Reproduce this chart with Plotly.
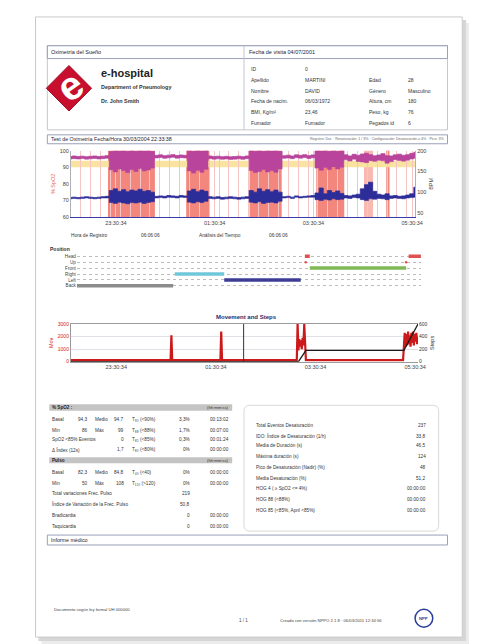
import plotly.graph_objects as go
import pandas as pd

W, H = 477, 644
FONT = "Arial, Liberation Sans, sans-serif"

def px(x):
    return x / W

def py(y):
    return 1 - y / H

def ts(hm):
    h = int(hm.split(":")[0])
    day = "2004-03-30" if h >= 12 else "2004-03-31"
    if hm.count(":") == 1:
        hm = hm + ":00"
    return f"{day} {hm}"

# ---------------- DATA ----------------
range_start, range_end = "22:36", "05:34"
tick_times = ["23:30:34", "01:30:34", "03:30:34", "05:30:34"]

# oximetry samples every 5 minutes from 22:35
sample_start = "2004-03-30 22:35"
spo2_hi = [96.5, 96.8, 96.5, 96.7, 96.4, 96.6, 96.8, 96.5, 96.7, 97.0,
           99.5, 100, 99.8, 100, 99.6, 100, 99.7, 100, 99.8, 100, 99.5,
           97.2, 97.5, 97.0, 97.3, 97.6, 97.1, 97.4, 97.2,
           100, 99.6, 100, 99.8, 100,
           96.8, 96.5, 96.7, 96.4, 96.6, 96.3, 96.5, 96.7, 96.4, 96.8,
           100, 99.7, 100, 99.5, 100, 99.8, 100, 99.6,
           97.0, 97.3, 96.8, 97.5, 97.2, 97.6, 97.0, 97.4,
           100, 99.8, 100, 99.5, 100, 99.7, 100,
           97.5, 96.8, 97.8, 97.2, 98.0, 98.5, 97.6, 96.9, 97.4, 98.2, 97.0, 96.8,
           97.5, 97.9, 97.2, 97.6, 98.4, 99.0]
spo2_lo = [95.0, 95.2, 95.0, 95.3, 94.9, 95.1, 95.3, 95.0, 95.2, 95.4,
           88.5, 87.2, 89.0, 88.0, 86.8, 88.6, 87.5, 89.2, 87.8, 88.4, 89.5,
           95.6, 95.9, 95.4, 95.7, 96.0, 95.5, 95.8, 95.6,
           87.8, 86.5, 88.2, 87.0, 88.8,
           95.2, 94.9, 95.1, 94.8, 95.0, 94.7, 94.9, 95.1, 94.8, 95.2,
           88.0, 86.9, 87.5, 88.6, 87.2, 88.1, 87.0, 89.0,
           95.4, 95.6, 95.2, 95.8, 95.5, 95.9, 95.3, 95.7,
           89.5, 88.2, 89.8, 88.6, 90.2, 89.0, 90.0,
           94.5, 93.8, 94.9, 93.5, 93.2, 92.8, 94.0, 93.6, 94.2, 93.9, 92.5, 93.4,
           94.6, 94.1, 93.7, 94.3, 95.0, 95.5]
pulse_hi = [87, 88, 87, 88, 89, 88, 87, 88, 89, 90,
            104, 108, 102, 106, 101, 105, 103, 107, 102, 104, 100,
            90, 91, 90, 92, 91, 90, 92, 91,
            103, 107, 101, 105, 102,
            89, 88, 89, 87, 88, 89, 88, 87, 88, 89,
            104, 100, 108, 102, 106, 101, 105, 100,
            89, 90, 88, 91, 89, 90, 91, 92,
            98, 110, 96, 104, 99, 103, 97,
            92, 91, 93, 95, 108, 118, 124, 102, 95, 93, 96, 91,
            92, 90, 91, 93, 96, 112]
pulse_lo = [84, 85, 84, 85, 86, 85, 84, 85, 86, 86,
            75, 73, 76, 74, 72, 75, 74, 76, 73, 75, 77,
            86, 87, 86, 88, 87, 86, 88, 87,
            76, 74, 77, 75, 78,
            85, 84, 85, 83, 84, 85, 84, 83, 84, 85,
            76, 74, 77, 73, 75, 76, 74, 78,
            86, 87, 85, 88, 86, 87, 88, 88,
            82, 80, 83, 81, 84, 82, 83,
            86, 85, 87, 86, 82, 80, 84, 83, 85, 84, 82, 85,
            86, 85, 84, 86, 87, 88]

# desaturation events
event_start = ["23:21", "00:56", "02:13", "03:34", "04:32", "04:59"]
event_end = ["00:18", "01:24", "02:52", "04:08", "04:43", "05:03"]
event_strong = [True, True, True, True, False, True]
alert_band = [90, 94]

# body position
pos_labels = ["Back", "Left", "Right", "Front", "Up", "Head"]
pos_row = ["Back", "Right", "Left", "Head", "Front", "Head"]
pos_start = ["22:36", "00:35", "01:35", "03:13", "03:19", "05:19"]
pos_end = ["00:33", "01:35", "03:08", "03:19", "05:16", "05:34"]
up_times = ["03:14", "05:16"]

# movement & steps
mov_times = ["22:36", "00:36", "00:37", "00:38", "01:36", "01:37", "01:38",
             "03:08", "03:09", "03:10", "03:11", "03:12", "03:13", "03:14", "03:15",
             "03:16", "03:17", "03:18", "03:19",
             "05:16", "05:17", "05:18", "05:19", "05:20", "05:21", "05:22", "05:23",
             "05:24", "05:25", "05:26", "05:27", "05:28", "05:29", "05:30", "05:31",
             "05:32", "05:33", "05:34"]
mov_vals = [120, 120, 2100, 120, 120, 2400, 120,
            120, 3000, 900, 1800, 1200, 1700, 1000, 1900, 1300, 3000, 600, 120,
            120, 1400, 2300, 1200, 2200, 1300, 2400, 1400, 2100, 1200, 2300, 1500,
            2400, 1300, 2200, 1600, 2300, 1400, 2000]
steps_times = ["22:36", "03:10", "03:19", "05:17", "05:34"]
steps_vals = [0, 0, 180, 180, 600]
marker_time = "02:04"

# patient info
info_l1 = ["ID", "Apellido", "Nombre", "Fecha de nacim.", "BMI, Kg/m²", "Fumador"]
info_v1 = ["0", "MARTINI", "DAVID", "06/03/1972", "23,46", "Fumador"]
info_l2 = ["", "Edad", "Género", "Altura, cm", "Peso, kg", "Pegados id"]
info_v2 = ["", "28", "Masculino", "180", "76", "6"]

# left statistics table
spo2_rows = [
    ["Basal", "94,3", "Medio", "94,7", "T₉₀ (<90%)", "3,3%", "00:13:02"],
    ["Mín", "86", "Máx", "99", "T₈₈ (<88%)", "1,7%", "00:07:00"],
    ["SpO2 <85% Eventos", "", "", "0", "T₈₅ (<85%)", "0,3%", "00:01:24"],
    ["Δ Índex (12s)", "", "", "1,7", "T₈₀ (<80%)", "0%", "00:00:00"],
]
pulse_rows = [
    ["Basal", "82,3", "Medio", "84,8", "T₄₀ (<40)", "0%", "00:00:00"],
    ["Mín", "50", "Máx", "108", "T₁₂₀ (>120)", "0%", "00:00:00"],
    ["Total variaciones Frec. Pulso", "", "", "", "", "219", ""],
    ["Índice de Variación de la Frec. Pulso", "", "", "", "", "50,8", ""],
    ["Bradicardia", "", "", "", "", "0", "00:00:00"],
    ["Taquicardia", "", "", "", "", "0", "00:00:00"],
]
# right statistics table
desat_labels = ["Total Eventos Desaturación", "IDO: Índice de Desaturación (1/h)",
                "Media de Duración (s)", "Máxima duración (s)",
                "Pico de Desaturación (Nadir) (%)", "Media Desaturación (%)",
                "HOG 4 ( ≥ SpO2 <= 4%)", "HOG 88 (<88%)", "HOG 85 (<85%, Apnl <85%)"]
desat_values = ["237", "33,8", "46,5", "124", "48", "51,2", "00:00:00", "00:00:00", "00:00:00"]

# ---------------- FIGURE ----------------
times = pd.date_range(sample_start, periods=len(spo2_hi), freq="5min")
MAG = "#b8449c"
SALMON = "#f3877d"
BLUE = "#2d2d9a"

fig = go.Figure()
fig.add_trace(go.Scatter(x=times, y=spo2_lo, mode="lines", line=dict(color=MAG, width=0.6, shape="hvh"),
                         xaxis="x", yaxis="y", hoverinfo="skip"))
fig.add_trace(go.Scatter(x=times, y=spo2_hi, mode="lines", line=dict(color=MAG, width=0.8, shape="hvh"),
                         fill="tonexty", fillcolor=MAG, xaxis="x", yaxis="y", hoverinfo="skip"))
fig.add_trace(go.Scatter(x=times, y=pulse_lo, mode="lines", line=dict(color=BLUE, width=0.6, shape="hvh"),
                         xaxis="x", yaxis="y2", hoverinfo="skip"))
fig.add_trace(go.Scatter(x=times, y=pulse_hi, mode="lines", line=dict(color=BLUE, width=0.8, shape="hvh"),
                         fill="tonexty", fillcolor=BLUE, xaxis="x", yaxis="y2", hoverinfo="skip"))

pos_colors = {"Back": "#8c8c8c", "Right": "#72c6da", "Left": "#3d3d96",
              "Front": "#80b955", "Head": "#e05252", "Up": "#e05252"}
for r, s, e in zip(pos_row, pos_start, pos_end):
    fig.add_trace(go.Scatter(x=[ts(s), ts(e)], y=[pos_labels.index(r)] * 2, mode="lines",
                             line=dict(color=pos_colors[r], width=3.5), xaxis="x2", yaxis="y3"))
fig.add_trace(go.Scatter(x=[ts(t) for t in up_times], y=[pos_labels.index("Up")] * len(up_times),
                         mode="markers", marker=dict(color="#e05252", size=2.5),
                         xaxis="x2", yaxis="y3"))

fig.add_trace(go.Scatter(x=[ts(t) for t in mov_times], y=mov_vals, mode="lines",
                         line=dict(color="#cc1a1a", width=2.2), xaxis="x3", yaxis="y4"))
fig.add_trace(go.Scatter(x=[ts(t) for t in steps_times], y=steps_vals, mode="lines",
                         line=dict(color="#1a1a1a", width=1.3), xaxis="x3", yaxis="y5"))

shapes = []
annos = []

def rect(x0, y0, x1, y1, line="#9aa0b8", fill=None, width=1, layer="above"):
    shapes.append(dict(type="rect", xref="paper", yref="paper", x0=px(x0), x1=px(x1),
                       y0=py(y1), y1=py(y0), line=dict(color=line, width=width) if line else dict(width=0),
                       fillcolor=fill if fill else "rgba(0,0,0,0)", layer=layer))

def vline(x, y0, y1, color="#9aa0b8", width=1):
    shapes.append(dict(type="line", xref="paper", yref="paper", x0=px(x), x1=px(x),
                       y0=py(y0), y1=py(y1), line=dict(color=color, width=width)))

def T(x, y, text, size=5.2, anchor="left", color="#333", bold=False, angle=0):
    if bold:
        text = f"<b>{text}</b>"
    annos.append(dict(x=px(x), y=py(y), xref="paper", yref="paper", text=text, showarrow=False,
                      xanchor=anchor, yanchor="middle", textangle=angle,
                      font=dict(size=size, color=color, family=FONT)))

# page & shadow
rect(34, 12, 470, 640, line=None, fill="#ececec", layer="below")
rect(31, 9, 466, 636, line=None, fill="#d6d6d6", layer="below")
rect(28, 6, 462, 632, line="#c9c9c9", fill="white", layer="below")

# header
rect(40, 35, 447, 120, line="#c3c6d3")
rect(40, 35, 447, 48)
vline(240, 35, 120, color="#c3c6d3")
T(42, 41.5, "Oximetría del Sueño", 5.5, color="#223")
T(243, 41.5, "Fecha de visita 04/07/2001", 5.5, color="#223")

# logo
cx, cy, r = 62, 78, 23
shapes.append(dict(type="path", xref="paper", yref="paper",
                   path=f"M {px(cx)},{py(cy - r)} L {px(cx + r)},{py(cy)} L {px(cx)},{py(cy + r)} L {px(cx - r)},{py(cy)} Z",
                   fillcolor="#c8102e", line=dict(color="#a00c25", width=1)))
T(63, 76, "e", 40, anchor="center", color="white", bold=True, angle=-35)
T(93, 63, "e-hospital", 11, color="#222", bold=True)
T(93, 77, "Department of Pneumology", 5.4, color="#333", bold=True)
T(93, 91, "Dr. John Smith", 5.4, color="#333", bold=True)

info_y = [59, 70, 81, 91, 102, 113]
for i, yy in enumerate(info_y):
    T(245, yy, info_l1[i], 5)
    T(300, yy, info_v1[i], 5)
    T(365, yy, info_l2[i], 5)
    T(405, yy, info_v2[i], 5)

# test bar
rect(40, 125, 447, 134)
T(42, 129.5, "Test de Oximetría Fecha/Hora 30/03/2004 22:33:38", 5.3, color="#223")
T(445, 129.5, "Registro: Dur. · Resaturación: 1 / 3% · Configuración: Desaturación ≥ 4% · Pico: 3%",
  3.6, anchor="right", color="#666")

# main chart background bands
shapes.append(dict(type="rect", xref="x", yref="y", x0=ts(range_start), x1=ts(range_end),
                   y0=alert_band[0], y1=alert_band[1], fillcolor="#fae3a0", line=dict(width=0),
                   layer="below"))
for s, e, strong in zip(event_start, event_end, event_strong):
    shapes.append(dict(type="rect", xref="x", yref="y domain", x0=ts(s), x1=ts(e), y0=0, y1=1,
                       fillcolor=SALMON if strong else "#f7b9b0", line=dict(width=0), layer="below"))

T(62, 227, "Hora de Registro", 4.8)
T(133, 227, "06:06:06", 4.8)
T(192, 227, "Análisis del Tiempo", 4.8)
T(263, 227, "06:06:06", 4.8)

T(41, 240, "Position", 5, color="#333", bold=True)

# movement chart
T(243, 309, "Movement and Steps", 6, anchor="center", color="#2a2a6a", bold=True)
shapes.append(dict(type="line", xref="x3", yref="y4 domain", x0=ts(marker_time), x1=ts(marker_time),
                   y0=0, y1=1, line=dict(color="#333", width=1)))

# left stats table
rect(42, 397, 228, 403.5, line=None, fill="#c4c4c4")
T(43, 400.3, "% SpO2 :", 4.6, color="#222", bold=True)
T(227, 400.3, "(hh:mm:ss)", 4.2, anchor="right", color="#333")
rect(42, 450.5, 228, 456.5, line=None, fill="#c4c4c4")
T(43, 453.5, "Pulso", 4.6, color="#222", bold=True)
T(227, 453.5, "(hh:mm:ss)", 4.2, anchor="right", color="#333")

def table_row(row, yy):
    lab, v1, l2, v2, tl, pct, tm = row
    T(43, yy, lab, 4.7)
    if v1:
        T(83, yy, v1, 4.7, anchor="right")
    if l2:
        T(86, yy, l2, 4.7)
    if v2:
        T(120, yy, v2, 4.7, anchor="right")
    if tl:
        T(124, yy, tl, 4.7)
    if pct:
        T(187, yy, pct, 4.7, anchor="right")
    if tm:
        T(227, yy, tm, 4.7, anchor="right")

for row, yy in zip(spo2_rows, [412, 423, 433, 443]):
    table_row(row, yy)
for row, yy in zip(pulse_rows, [466, 477, 487, 498, 509, 520]):
    table_row(row, yy)

# right stats box (rounded)
x0, x1, y0, y1, rr = 240, 438, 398, 525, 6
path = (f"M {px(x0 + rr)},{py(y0)} L {px(x1 - rr)},{py(y0)} Q {px(x1)},{py(y0)} {px(x1)},{py(y0 + rr)} "
        f"L {px(x1)},{py(y1 - rr)} Q {px(x1)},{py(y1)} {px(x1 - rr)},{py(y1)} "
        f"L {px(x0 + rr)},{py(y1)} Q {px(x0)},{py(y1)} {px(x0)},{py(y1 - rr)} "
        f"L {px(x0)},{py(y0 + rr)} Q {px(x0)},{py(y0)} {px(x0 + rr)},{py(y0)} Z")
shapes.append(dict(type="path", xref="paper", yref="paper", path=path,
                   line=dict(color="#d8d8d8", width=1), fillcolor="rgba(0,0,0,0)"))
for i, yy in enumerate([418, 429, 439, 450, 461, 472, 482, 493, 504]):
    T(250, yy, desat_labels[i], 4.7)
    T(427, yy, desat_values[i], 4.7, anchor="right")

# informe medico
rect(40, 529, 447, 539)
T(42, 534, "Informe médico", 5.3, color="#223")

# footer
T(45, 604, "Documento según ley formal UH 000000", 4.2, color="#444")
T(240, 615, "1 / 1", 4.5, anchor="center", color="#444")
T(275, 615, "Creado con versión NPPO 2.1.8 · 06/03/2011 12:34:56", 4.2, color="#444")
shapes.append(dict(type="circle", xref="paper", yref="paper", x0=px(414), x1=px(432),
                   y0=py(622), y1=py(604), line=dict(color="#2a3f9a", width=1.5),
                   fillcolor="white"))
T(423, 613, "<b>NPP</b>", 4.2, anchor="center", color="#2a3f9a")

tickfont = dict(size=5.5, color="#444", family=FONT)
xr = [ts(range_start), ts(range_end)]
tv = [ts(t) for t in tick_times]

fig.update_layout(
    width=W, height=644, margin=dict(l=0, r=0, t=0, b=0),
    paper_bgcolor="white", plot_bgcolor="rgba(0,0,0,0)", showlegend=False,
    font=dict(family=FONT),
    shapes=shapes, annotations=annos,
    xaxis=dict(domain=[px(64), px(414)], anchor="y", type="date", range=xr,
               tickvals=tv, ticktext=tick_times, tickfont=tickfont,
               showgrid=True, gridcolor="#f5c4c4", gridwidth=0.8,
               minor=dict(dtick=720000, showgrid=True, gridcolor="#f5c4c4", gridwidth=0.8),
               showline=True, linecolor="#3a3aa8", linewidth=1.2, ticks="", zeroline=False),
    yaxis=dict(domain=[py(208), py(141)], anchor="x", range=[60, 100],
               tickvals=[60, 70, 80, 90, 100], tickfont=tickfont, showgrid=False,
               showline=True, linecolor="#b0b0b0", zeroline=False, ticks="",
               title=dict(text="% SpO2", font=dict(size=5.5, color="#e06a6a"), standoff=3)),
    yaxis2=dict(overlaying="y", anchor="x", side="right", range=[40, 200],
                tickvals=[50, 100, 150, 200], tickfont=tickfont, showgrid=False,
                showline=True, linecolor="#b0b0b0", zeroline=False, ticks="",
                title=dict(text="BPM", font=dict(size=5.5, color="#444"), standoff=3)),
    xaxis2=dict(domain=[px(70), px(420)], anchor="y3", type="date", range=xr,
                showticklabels=False, showgrid=False, showline=False, zeroline=False, ticks=""),
    yaxis3=dict(domain=[py(281), py(244)], anchor="x2", range=[-0.6, 5.6],
                tickvals=list(range(len(pos_labels))), ticktext=pos_labels,
                tickfont=dict(size=4.6, color="#444", family=FONT),
                showgrid=True, gridcolor="#bdbdbd", gridwidth=0.6, griddash="dot",
                showline=False, zeroline=False, ticks=""),
    xaxis3=dict(domain=[px(64), px(417)], anchor="y4", type="date", range=xr,
                tickvals=tv, ticktext=tick_times, tickfont=tickfont, showgrid=False,
                showline=True, linecolor="#9a9a9a", mirror=True, ticks="", zeroline=False),
    yaxis4=dict(domain=[py(354), py(316)], anchor="x3", range=[0, 3000],
                tickvals=[0, 1000, 2000, 3000], tickfont=dict(size=5, color="#d42020", family=FONT),
                showgrid=True, gridcolor="#e0e0e6", showline=True, linecolor="#9a9a9a",
                zeroline=False, ticks="",
                title=dict(text="Mov", font=dict(size=5.5, color="#d42020"), standoff=3)),
    yaxis5=dict(overlaying="y4", anchor="x3", side="right", range=[0, 600],
                tickvals=[0, 200, 400, 600], tickfont=dict(size=5, color="#333", family=FONT),
                showgrid=False, showline=False, zeroline=False, ticks="",
                title=dict(text="Steps", font=dict(size=5.5, color="#333"), standoff=3)),
)

fig.write_html("out.html")
